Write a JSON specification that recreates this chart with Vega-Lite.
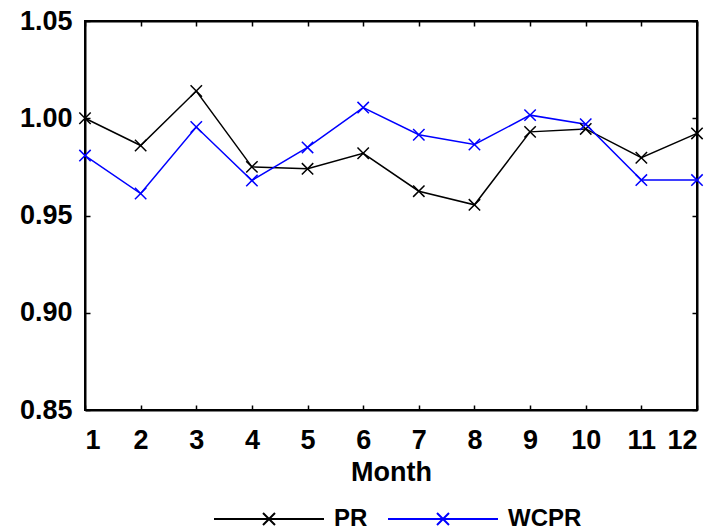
{
  "$schema": "https://vega.github.io/schema/vega-lite/v6.json",
  "width": 612,
  "height": 389,
  "autosize": "none",
  "padding": {"left": 85, "top": 21, "right": 20, "bottom": 121},
  "background": "white",
  "config": {
    "view": {"stroke": "black", "strokeWidth": 2},
    "font": "Liberation Sans",
    "axis": {"grid": false, "domainColor": "black", "domainWidth": 2, "tickColor": "black", "tickWidth": 1.5, "labelFont": "Liberation Sans", "labelFontWeight": "bold", "labelFontSize": 27, "labelColor": "black", "titleFont": "Liberation Sans", "titleFontWeight": "bold", "titleFontSize": 27, "titleColor": "black"}
  },
  "data": {"values": [
    {"month": 1, "series": "PR", "value": 1.000},
    {"month": 2, "series": "PR", "value": 0.986},
    {"month": 3, "series": "PR", "value": 1.014},
    {"month": 4, "series": "PR", "value": 0.975},
    {"month": 5, "series": "PR", "value": 0.974},
    {"month": 6, "series": "PR", "value": 0.982},
    {"month": 7, "series": "PR", "value": 0.9625},
    {"month": 8, "series": "PR", "value": 0.9555},
    {"month": 9, "series": "PR", "value": 0.993},
    {"month": 10, "series": "PR", "value": 0.9945},
    {"month": 11, "series": "PR", "value": 0.9797},
    {"month": 12, "series": "PR", "value": 0.9922},
    {"month": 1, "series": "WCPR", "value": 0.9808},
    {"month": 2, "series": "WCPR", "value": 0.9613},
    {"month": 3, "series": "WCPR", "value": 0.9955},
    {"month": 4, "series": "WCPR", "value": 0.968},
    {"month": 5, "series": "WCPR", "value": 0.985},
    {"month": 6, "series": "WCPR", "value": 1.0055},
    {"month": 7, "series": "WCPR", "value": 0.9915},
    {"month": 8, "series": "WCPR", "value": 0.9865},
    {"month": 9, "series": "WCPR", "value": 1.0016},
    {"month": 10, "series": "WCPR", "value": 0.9969},
    {"month": 11, "series": "WCPR", "value": 0.9682},
    {"month": 12, "series": "WCPR", "value": 0.9682}
  ]},
  "layer": [
    {
      "mark": {"type": "line", "strokeWidth": 1.5, "point": {"shape": "M-1,-1L1,1M-1,1L1,-1", "size": 130, "filled": false, "strokeWidth": 1.5}},
      "encoding": {
        "x": {"field": "month", "type": "quantitative", "scale": {"domain": [1, 12], "nice": false, "zero": false}, "axis": {"title": "Month", "values": [1,2,3,4,5,6,7,8,9,10,11,12], "tickSize": -5, "labelPadding": 22, "titlePadding": 6}},
        "y": {"field": "value", "type": "quantitative", "scale": {"domain": [0.85, 1.05], "nice": false, "zero": false}, "axis": {"title": null, "values": [0.85, 0.9, 0.95, 1.0, 1.05], "format": ".2f", "tickSize": -5, "labelPadding": 18}},
        "color": {"field": "series", "type": "nominal", "scale": {"domain": ["PR", "WCPR"], "range": ["black", "#0000ff"]}, "legend": {"title": null, "orient": "none", "legendX": 172, "legendY": 486, "padding": 0, "direction": "horizontal", "symbolType": "M-5.5,0L5.5,0M-0.6,-0.6L0.6,0.6M-0.6,0.6L0.6,-0.6", "symbolSize": 400, "symbolStrokeWidth": 2, "labelOffset": 53, "labelFontSize": 24, "labelFontWeight": "bold", "labelFont": "Liberation Sans", "labelColor": "black", "columnPadding": 16}}
      }
    },
    {
      "mark": {"type": "point", "opacity": 0},
      "encoding": {
        "x": {"field": "month", "type": "quantitative", "axis": {"orient": "top", "title": null, "labels": false, "values": [1,2,3,4,5,6,7,8,9,10,11,12], "tickSize": -5}},
        "y": {"field": "value", "type": "quantitative", "axis": {"orient": "right", "title": null, "labels": false, "values": [0.85, 0.9, 0.95, 1.0, 1.05], "tickSize": -5}}
      }
    }
  ],
  "resolve": {"axis": {"x": "independent", "y": "independent"}}
}
